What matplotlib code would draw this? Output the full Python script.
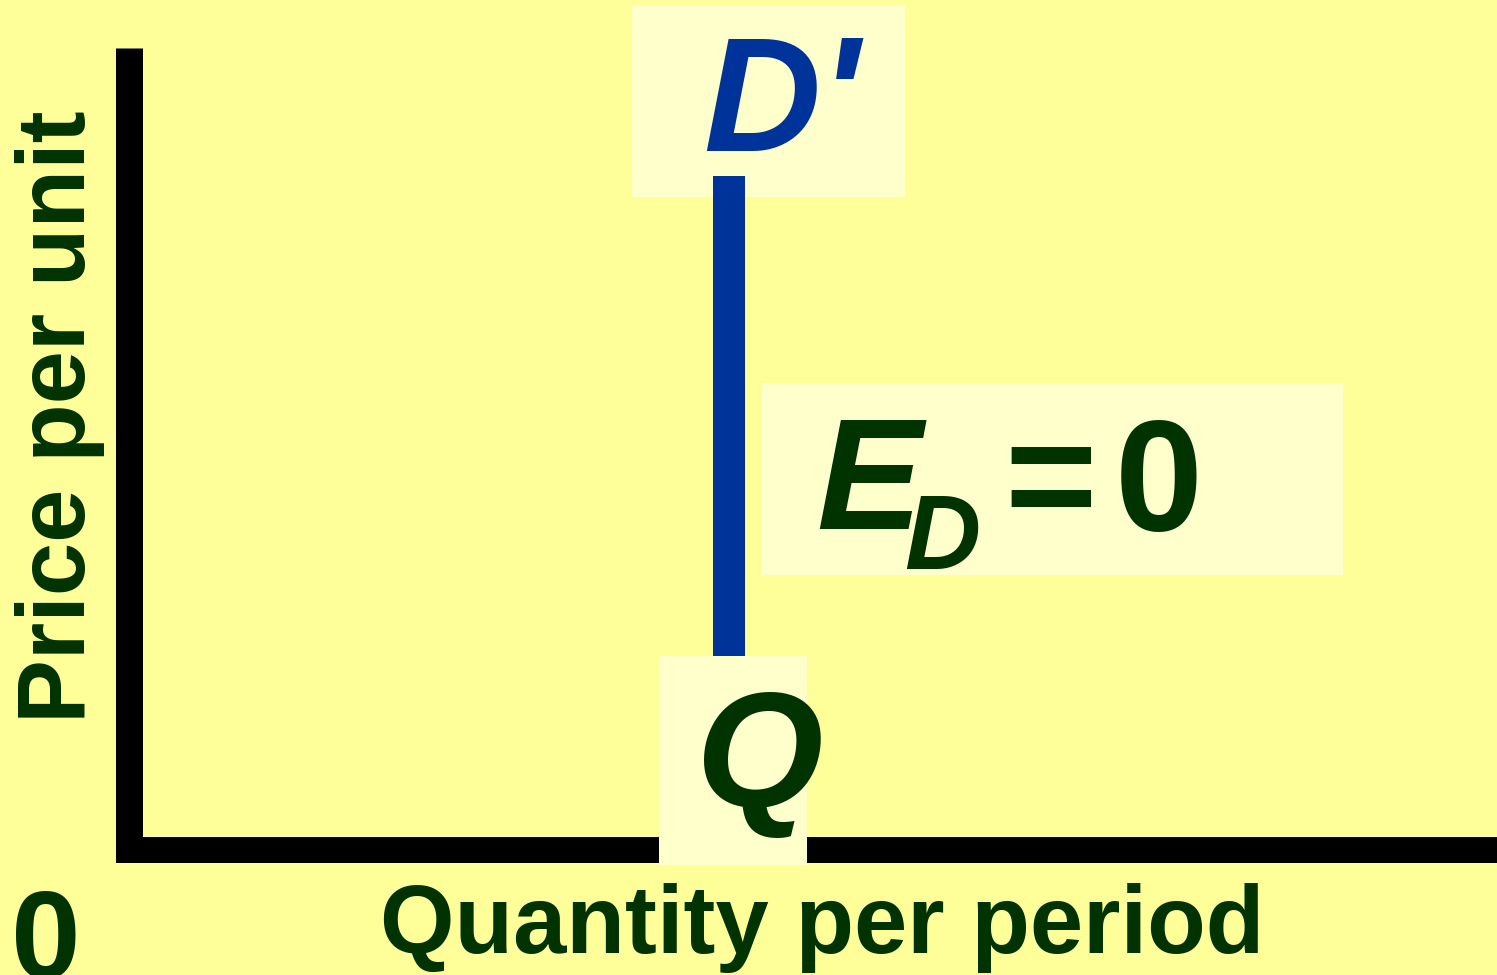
import matplotlib
matplotlib.use("Agg")
import matplotlib.pyplot as plt
from matplotlib.patches import Rectangle
from matplotlib.transforms import Affine2D

# data: perfectly inelastic demand, fixed quantity whatever the price
q_fixed = 4.39
prices = [0.0, 8.4]
quantities = [q_fixed, q_fixed]
x_max, y_max = 10, 10

curve_label = "D'"
point_label = "Q"
x_label = "Quantity per period"
y_label = "Price per unit"
origin_label = "0"

BG = "#FFFF99"
BOX = "#FFFFCC"
BLUE = "#003399"
GREEN = "#003300"
FONT = "Liberation Sans"

W, H = 1497, 975
fig = plt.figure(figsize=(W / 100, H / 100), dpi=100, facecolor=BG)

# pixel coords with origin at top-left
pix = Affine2D().scale(1, -1).translate(0, H)

ax = fig.add_axes([128.5 / W, (H - 850) / H, (W - 128.5) / W, (850 - 48) / H])
ax.set_facecolor(BG)
ax.set_xlim(0, x_max)
ax.set_ylim(0, y_max)
ax.set_xticks([])
ax.set_yticks([])
for s in ["top", "right"]:
    ax.spines[s].set_visible(False)
ax.spines["left"].set_linewidth(27 * 0.72)
ax.spines["left"].set_capstyle("butt")
ax.spines["bottom"].set_linewidth(26 * 0.72)
ax.spines["bottom"].set_capstyle("projecting")
for s in ["left", "bottom"]:
    ax.spines[s].set_color("black")

# demand curve
ax.plot(quantities, prices, color=BLUE, lw=32 * 0.72, solid_capstyle="butt",
        zorder=3, clip_on=False)


def box(x0, y0, x1, y1, z):
    ax.add_patch(Rectangle((x0, y1), x1 - x0, y0 - y1, transform=pix,
                           facecolor=BOX, edgecolor="none", zorder=z, clip_on=False))


box(632, 5, 905, 197, 2)
box(762, 383, 1343, 575, 2)
box(659, 656, 807, 865, 4)


def txt(x, y, s, size, color=GREEN, style="normal", **kw):
    ax.text(x, y, s, transform=pix, fontsize=size, color=color, fontweight="bold",
            fontstyle=style, family=FONT, ha=kw.pop("ha", "center"),
            va=kw.pop("va", "baseline"), zorder=5, clip_on=False, **kw)


txt(781, 151, curve_label, 117, color=BLUE, style="italic")
txt(760, 806, point_label, 118, style="italic")

# E_D = 0
txt(869, 529, "E", 114, style="italic")
txt(942, 569, "D", 76, style="italic")
txt(1051, 529, "=", 114)
txt(1159, 530, "0", 114)

txt(822, 953, x_label, 69)
txt(85, 416.5, y_label, 69, rotation=90, rotation_mode="anchor")
txt(46, 978, origin_label, 90)

fig.savefig("out.png", dpi=100, facecolor=BG)
